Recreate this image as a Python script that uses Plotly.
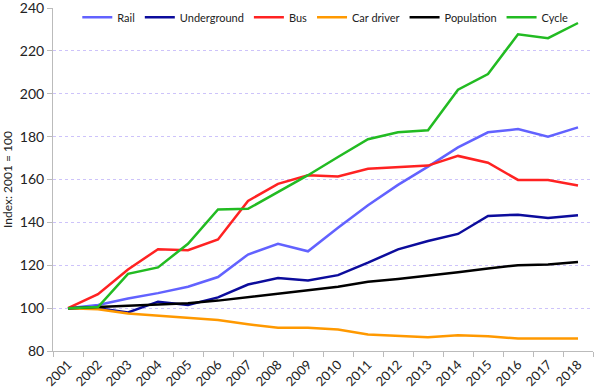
import plotly.graph_objects as go

years = [str(y) for y in range(2001, 2019)]
rail = [100, 101.5, 104.5, 107, 110, 114.5, 125, 130, 126.5, 137.5, 148, 157.5, 166, 175, 182, 183.5, 180, 184.3]
underground = [100, 100, 98, 103, 101.5, 105, 111, 114, 112.9, 115.4, 121.2, 127.4, 131.3, 134.6, 143, 143.6, 142, 143.3]
bus = [100, 106.5, 118, 127.5, 127, 132, 150, 158, 162, 161.4, 165, 165.7, 166.5, 171, 167.8, 159.8, 159.8, 157.2]
car_driver = [100, 99.5, 97.5, 96.5, 95.5, 94.5, 92.5, 90.8, 90.8, 90, 87.7, 86.9, 86.4, 87.4, 86.9, 85.8, 85.8, 85.8]
population = [100, 100.5, 101, 101.5, 102.3, 103.5, 105, 106.5, 108.3, 110, 112.3, 113.6, 115, 116.7, 118.5, 120, 120.4, 121.5]
cycle = [100, 100.5, 116, 119, 130, 146, 146.3, 154, 162, 170.5, 178.8, 182, 183, 201.9, 209.2, 227.7, 225.9, 233]
y_ticks = [80, 100, 120, 140, 160, 180, 200, 220, 240]

series = [
    ("Rail", rail, "#6262ff"),
    ("Underground", underground, "#0c0c9c"),
    ("Bus", bus, "#ff2222"),
    ("Car driver", car_driver, "#ff9900"),
    ("Population", population, "#000000"),
    ("Cycle", cycle, "#22bb22"),
]

fig = go.Figure()
for name, vals, col in series:
    fig.add_trace(go.Scatter(x=years, y=vals, name=name, mode="lines",
                             line=dict(color=col, width=2.5)))

fig.update_layout(
    width=598, height=391,
    margin=dict(l=53, r=5, t=8, b=40, autoexpand=False),
    paper_bgcolor="white", plot_bgcolor="white",
    font=dict(family="Lato, sans-serif", size=12, color="#222"),
    legend=dict(orientation="h", x=0.045, y=1.015, xanchor="left", yanchor="top",
                bgcolor="rgba(0,0,0,0)", font=dict(size=11)),
    showlegend=True,
)
fig.update_xaxes(type="category", tickson="boundaries", ticks="outside", ticklen=5,
                 tickcolor="#bbb", showline=True, linecolor="#bbb", showgrid=False,
                 tickangle=-45, range=[-0.5, 17.5], tickfont=dict(size=13),
                 automargin=False, ticklabeloverflow="allow")
fig.update_yaxes(range=[80, 240], tickvals=y_ticks, ticks="outside", ticklen=5,
                 tickcolor="#bbb", showline=True, linecolor="#bbb",
                 showgrid=True, gridcolor="#cdc3fa", griddash="dot", gridwidth=1,
                 zeroline=False, tickfont=dict(size=14), automargin=False,
                 ticklabeloverflow="allow",
                 title=dict(text="Index: 2001 = 100", font=dict(size=12), standoff=10))

fig.write_html("out.html", config={"displayModeBar": False},
               post_script="document.body.style.margin='0';")
